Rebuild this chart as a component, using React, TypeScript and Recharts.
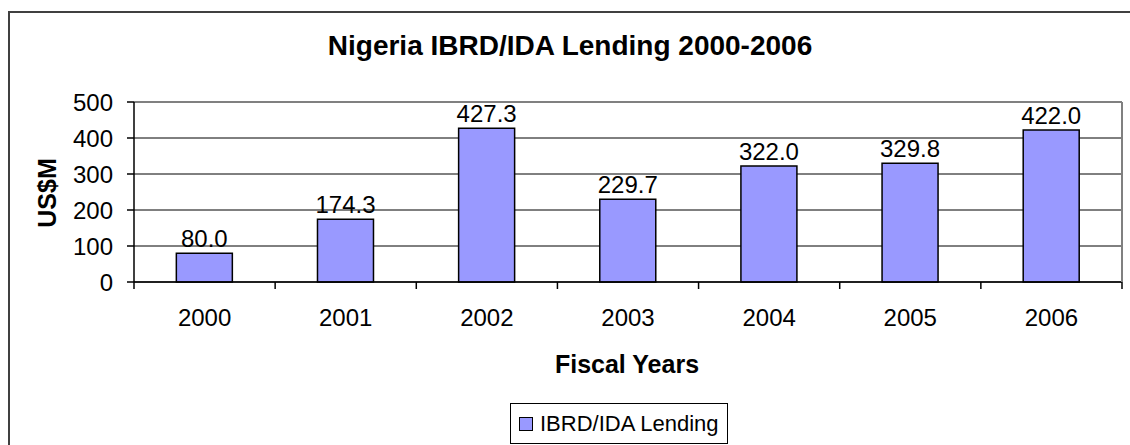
import { BarChart, Bar, XAxis, YAxis, CartesianGrid, ReferenceLine, LabelList } from 'recharts';

const years = ['2000', '2001', '2002', '2003', '2004', '2005', '2006'];
const lending = [80.0, 174.3, 427.3, 229.7, 322.0, 329.8, 422.0];
const yTicks = [0, 100, 200, 300, 400, 500];

const data = years.map((year, i) => ({ year, lending: lending[i] }));

const FONT = '"Liberation Sans", Arial, sans-serif';

// year label plus the small tick marks on the category boundaries (Excel style)
function YearTick(props: any) {
  const { x, y, payload, index } = props;
  const half = payload && payload.offset ? payload.offset : 70.6;
  const axisY = y - 27;
  const last = index === years.length - 1;
  return (
    <g>
      <line x1={x - half} x2={x - half} y1={axisY} y2={axisY + 7} stroke="#000" strokeWidth={1.5} />
      {last && <line x1={x + half} x2={x + half} y1={axisY} y2={axisY + 7} stroke="#000" strokeWidth={1.5} />}
      <text x={x} y={y} dy="0.71em" textAnchor="middle" fill="#000" fontSize={24} fontFamily={FONT}>
        {payload.value}
      </text>
    </g>
  );
}

export default function App() {
  // fixed so the chart can run to the window edge without scrollbars
  return (
    <div
      style={{
        position: 'fixed',
        left: 0,
        top: 0,
        width: 1130,
        height: 445,
        overflow: 'hidden',
        fontFamily: FONT,
        background: '#fff',
      }}
    >
      <div
        style={{
          position: 'absolute',
          left: 8,
          top: 11,
          width: 1300,
          height: 600,
          borderTop: '2px solid #404040',
          borderLeft: '2px solid #404040',
          boxSizing: 'border-box',
        }}
      />
      <div
        style={{
          position: 'absolute',
          left: 570,
          top: 32,
          transform: 'translateX(-50%)',
          whiteSpace: 'nowrap',
          fontSize: 28,
          lineHeight: 1,
          fontWeight: 'bold',
        }}
      >
        Nigeria IBRD/IDA Lending 2000-2006
      </div>
      <div style={{ position: 'absolute', left: 8, top: 8 }}>
        <BarChart
          width={1122}
          height={437}
          data={data}
          barCategoryGap="30%"
          margin={{ top: 94, right: 7, left: 0, bottom: 123 }}
        >
          <CartesianGrid vertical={false} stroke="#000" strokeWidth={1} />
          <XAxis
            dataKey="year"
            height={40}
            axisLine={{ stroke: '#000', strokeWidth: 1.5 }}
            tickLine={false}
            tickSize={0}
            tickMargin={27}
            interval={0}
            tick={<YearTick />}
          />
          <YAxis
            domain={[0, 500]}
            ticks={yTicks}
            width={126}
            tickSize={7}
            tickMargin={14}
            axisLine={{ stroke: '#000', strokeWidth: 1.5 }}
            tickLine={{ stroke: '#000', strokeWidth: 1.5 }}
            tick={{ fill: '#000', fontSize: 24, fontFamily: FONT }}
          />
          <YAxis
            yAxisId="frame"
            orientation="right"
            domain={[0, 500]}
            width={1}
            tick={false}
            tickLine={false}
            axisLine={{ stroke: '#808080', strokeWidth: 2 }}
          />
          <ReferenceLine y={500} stroke="#808080" strokeWidth={2} />
          <Bar dataKey="lending" fill="#9999FF" stroke="#000" strokeWidth={1.5} isAnimationActive={false}>
            <LabelList
              dataKey="lending"
              position="top"
              offset={6}
              fill="#000"
              fontSize={24}
              fontFamily={FONT}
              formatter={(v: number) => v.toFixed(1)}
            />
          </Bar>
        </BarChart>
      </div>
      <div
        style={{
          position: 'absolute',
          left: 46.5,
          top: 192.5,
          transform: 'translate(-50%, -50%) rotate(-90deg)',
          whiteSpace: 'nowrap',
          fontSize: 25,
          lineHeight: 1,
          fontWeight: 'bold',
        }}
      >
        US$M
      </div>
      <div
        style={{
          position: 'absolute',
          left: 627,
          top: 352,
          transform: 'translateX(-50%)',
          whiteSpace: 'nowrap',
          fontSize: 25,
          lineHeight: 1,
          fontWeight: 'bold',
        }}
      >
        Fiscal Years
      </div>
      <div
        style={{
          position: 'absolute',
          left: 510,
          top: 403,
          width: 218,
          height: 41,
          border: '1px solid #000',
          boxSizing: 'border-box',
          display: 'flex',
          alignItems: 'center',
          paddingLeft: 8,
          gap: 7,
          background: '#fff',
        }}
      >
        <span
          style={{
            display: 'inline-block',
            width: 14,
            height: 14,
            background: '#9999FF',
            border: '1px solid #000',
            boxSizing: 'border-box',
          }}
        />
        <span style={{ fontSize: 22, lineHeight: 1, whiteSpace: 'nowrap' }}>IBRD/IDA Lending</span>
      </div>
    </div>
  );
}
